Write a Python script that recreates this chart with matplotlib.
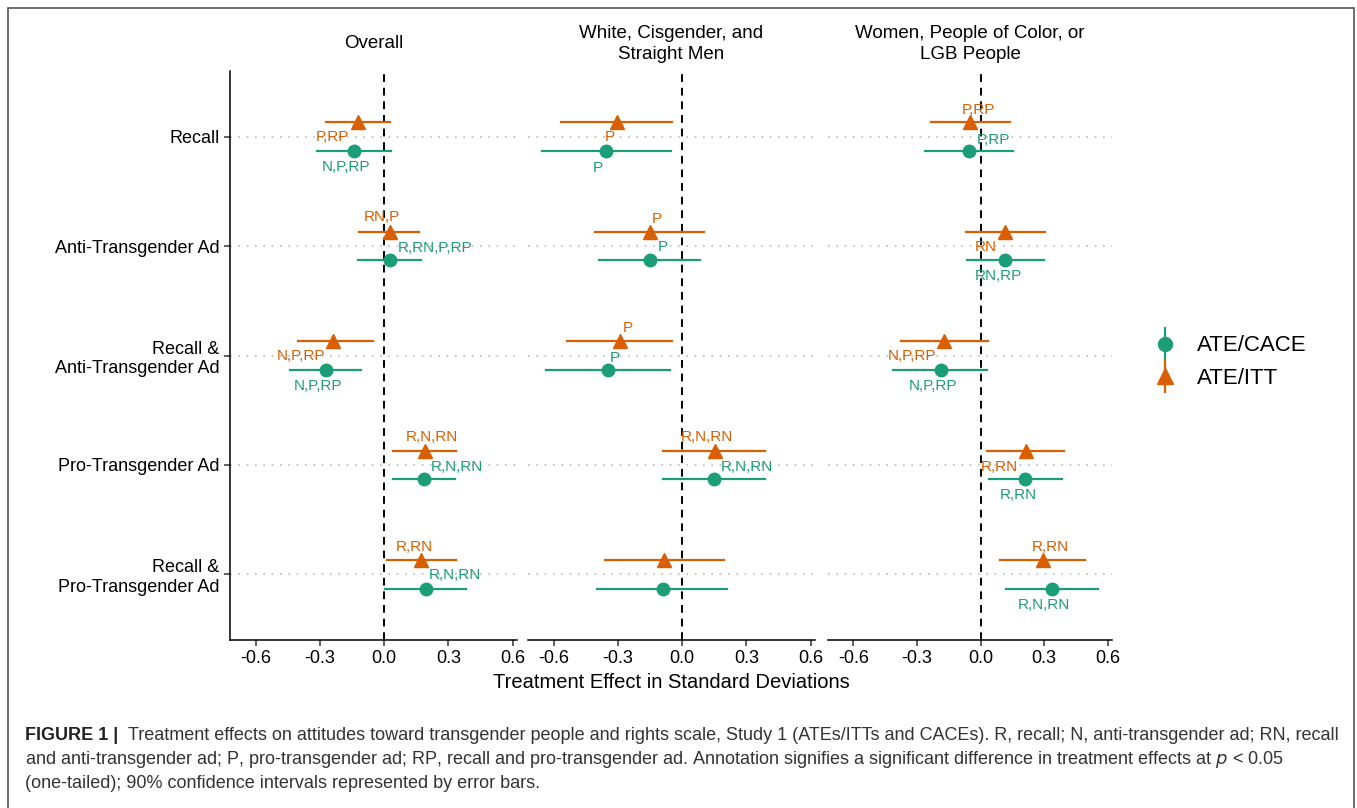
import matplotlib
matplotlib.use("Agg")
import matplotlib.pyplot as plt
from matplotlib.lines import Line2D
from matplotlib.legend_handler import HandlerTuple
from matplotlib.patches import Rectangle

plt.rcParams['font.family'] = ['Liberation Sans', 'DejaVu Sans']

# --- datos ---
categorias = ["Recall", "Anti-Transgender Ad", "Recall &\nAnti-Transgender Ad",
              "Pro-Transgender Ad", "Recall &\nPro-Transgender Ad"]
paneles = ["Overall", "White, Cisgender, and\nStraight Men",
           "Women, People of Color, or\nLGB People"]

# ATE/CACE (circulos)
cace_est = [[-0.14, 0.025, -0.274, 0.187, 0.197],
            [-0.356, -0.152, -0.346, 0.149, -0.088],
            [-0.056, 0.115, -0.189, 0.211, 0.338]]
cace_lo = [[-0.313, -0.124, -0.442, 0.043, 0.006],
           [-0.654, -0.389, -0.634, -0.091, -0.397],
           [-0.262, -0.065, -0.411, 0.040, 0.121]]
cace_hi = [[0.031, 0.171, -0.108, 0.332, 0.381],
           [-0.053, 0.084, -0.056, 0.388, 0.211],
           [0.151, 0.298, 0.030, 0.383, 0.555]]
cace_lab = [["N,P,RP", "R,RN,P,RP", "N,P,RP", "R,N,RN", "R,N,RN"],
            ["P", "P", "P", "R,N,RN", ""],
            ["P,RP", "RN,RP", "N,P,RP", "R,RN", "R,N,RN"]]

# ATE/ITT (triangulos)
itt_est = [[-0.122, 0.025, -0.24, 0.19, 0.171],
           [-0.304, -0.15, -0.291, 0.152, -0.084],
           [-0.049, 0.116, -0.172, 0.213, 0.293]]
itt_lo = [[-0.27, -0.118, -0.403, 0.039, 0.012],
          [-0.564, -0.406, -0.538, -0.088, -0.361],
          [-0.235, -0.07, -0.377, 0.028, 0.092]]
itt_hi = [[0.028, 0.164, -0.05, 0.335, 0.333],
          [-0.049, 0.102, -0.047, 0.385, 0.193],
          [0.137, 0.306, 0.033, 0.393, 0.493]]
itt_lab = [["P,RP", "RN,P", "N,P,RP", "R,N,RN", "R,RN"],
           ["P", "P", "P", "R,N,RN", ""],
           ["P,RP", "RN", "N,P,RP", "R,RN", "R,RN"]]

# desplazamiento de las etiquetas (pixeles, x derecha / y arriba)
cace_off = [[(-8, -16), (45, 12), (-8, -16), (33, 12), (28, 14)],
            [(-8, -17), (13, 13), (7, 12), (33, 12), (0, 0)],
            [(25, 11), (-7, -16), (-8, -16), (-7, -16), (-8, -16)]]
itt_off = [[(-26, -15), (-8, 15), (-32, -15), (7, 14), (-7, 13)],
           [(-7, -15), (7, 13), (8, 13), (-8, 14), (0, 0)],
           [(8, 12), (-19, -15), (-32, -15), (-26, -16), (8, 13)]]

VERDE = "#1B9E77"
NARANJA = "#D95F02"


def dibujar_panel(ax, k):
    n = len(categorias)
    pos = [n - i for i in range(n)]
    for i in range(n):
        y_itt = pos[i] + 0.13
        y_cace = pos[i] - 0.13
        ax.plot([itt_lo[k][i], itt_hi[k][i]], [y_itt, y_itt], color=NARANJA, lw=1.6, zorder=3)
        ax.plot(itt_est[k][i], y_itt, marker="^", ms=10.5, color=NARANJA, zorder=4)
        ax.plot([cace_lo[k][i], cace_hi[k][i]], [y_cace, y_cace], color=VERDE, lw=1.6, zorder=3)
        ax.plot(cace_est[k][i], y_cace, marker="o", ms=9, color=VERDE, zorder=4)
        if itt_lab[k][i]:
            ax.annotate(itt_lab[k][i], (itt_est[k][i], y_itt), xytext=itt_off[k][i],
                        textcoords="offset pixels", ha="center", va="center",
                        color=NARANJA, fontsize=11)
        if cace_lab[k][i]:
            ax.annotate(cace_lab[k][i], (cace_est[k][i], y_cace), xytext=cace_off[k][i],
                        textcoords="offset pixels", ha="center", va="center",
                        color=VERDE, fontsize=11)
        ax.axhline(pos[i], color="#BBBBBB", ls=(0, (1, 4)), lw=1.2, zorder=1)

    ax.axvline(0, color="black", ls=(0, (4, 3)), lw=1.4, zorder=2)
    ax.set_xlim(-0.72, 0.62)
    ax.set_ylim(0.4, 5.6)
    ax.set_xticks([-0.6, -0.3, 0.0, 0.3, 0.6])
    ax.set_xticklabels(["-0.6", "-0.3", "0.0", "0.3", "0.6"])
    ax.tick_params(axis="both", labelsize=13, length=4, width=1.1, color="#333333")
    for s in ["top", "right"]:
        ax.spines[s].set_visible(False)
    ax.spines["bottom"].set_linewidth(1.1)
    ax.spines["left"].set_linewidth(1.1)
    ax.set_yticks(pos)
    if k == 0:
        ax.set_yticklabels(categorias)
    else:
        ax.spines["left"].set_visible(False)
        ax.tick_params(axis="y", left=False, labelleft=False)


def main():
    fig = plt.figure(figsize=(13.57, 8.08), dpi=100)
    W, H = 1357, 808
    izq = [230, 528, 828]
    ancho = [287, 287, 284]
    for k in range(3):
        ax = fig.add_axes([izq[k] / W, 1 - 640 / H, ancho[k] / W, (640 - 71) / H])
        dibujar_panel(ax, k)
        fig.text((izq[k] + ancho[k] / 2) / W, 1 - 44 / H, paneles[k], ha="center",
                 va="center", fontsize=13.5, linespacing=1.3)

    fig.text(671 / W, 1 - 683 / H, "Treatment Effect in Standard Deviations",
             ha="center", va="center", fontsize=14.5)

    h_cace = (Line2D([], [], marker="|", ms=24, mew=1.6, color=VERDE, ls="None"),
              Line2D([], [], marker="o", ms=10, color=VERDE, ls="None"))
    h_itt = (Line2D([], [], marker="|", ms=24, mew=1.6, color=NARANJA, ls="None"),
             Line2D([], [], marker="^", ms=11, color=NARANJA, ls="None"))
    fig.legend([h_cace, h_itt], ["ATE/CACE", "ATE/ITT"],
               handler_map={tuple: HandlerTuple(ndivide=1)},
               loc="center left", bbox_to_anchor=(1129 / W, 1 - 362 / H),
               frameon=False, fontsize=16, handlelength=1.4, handletextpad=0.75,
               labelspacing=0.5)

    # marco de la figura
    fig.patches.append(Rectangle((8 / W, -0.01), (1354 - 8) / W, 1 - 8 / H + 0.01,
                                 transform=fig.transFigure, fill=False,
                                 edgecolor="#555555", lw=1.2))

    # pie de figura
    pie = ["Treatment effects on attitudes toward transgender people and rights scale, "
           "Study 1 (ATEs/ITTs and CACEs). R, recall; N, anti-transgender ad; RN, recall",
           "and anti-transgender ad; P, pro-transgender ad; RP, recall and pro-transgender ad. "
           "Annotation signifies a significant difference in treatment effects at $p$ < 0.05",
           "(one-tailed); 90% confidence intervals represented by error bars."]
    fig.text(25 / W, 1 - 736 / H, "FIGURE 1 |", fontsize=13, fontweight="bold",
             va="center", color="#222222")
    fig.text(128 / W, 1 - 736 / H, pie[0], fontsize=13, va="center", color="#333333")
    fig.text(25 / W, 1 - 760 / H, pie[1], fontsize=13, va="center", color="#333333")
    fig.text(25 / W, 1 - 784 / H, pie[2], fontsize=13, va="center", color="#333333")

    fig.savefig("out.png", dpi=100)


if __name__ == "__main__":
    main()
